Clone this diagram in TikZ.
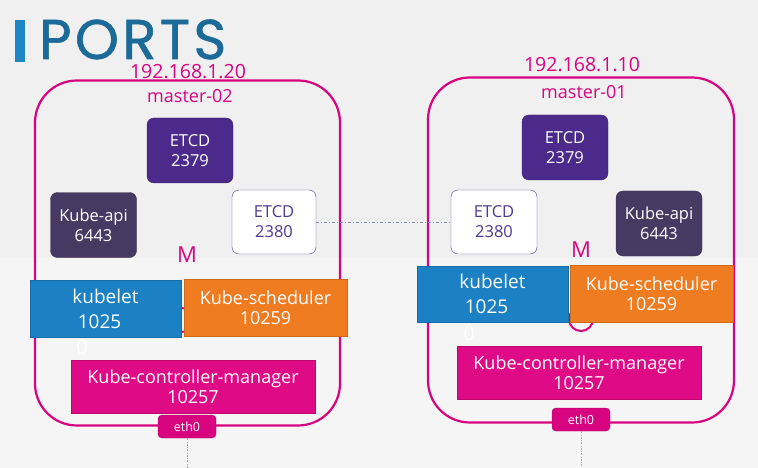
\documentclass[tikz,border=0pt]{standalone}
\usepackage{fontspec}
\setmainfont{Open Sans}
\newfontfamily\titlefont[LetterSpace=6,FakeBold=1]{Poppins}
\definecolor{hostpink}{HTML}{D8037F}
\definecolor{etcdpurple}{HTML}{4B2A8B}
\definecolor{apigray}{HTML}{463A62}
\definecolor{peerpurple}{HTML}{4F3A94}
\definecolor{kubeletblue}{HTML}{1B80C4}
\definecolor{schedorange}{HTML}{F07C22}
\definecolor{kcmpink}{HTML}{DE0A86}
\definecolor{titleblue}{HTML}{1B6A97}
\definecolor{barblue}{HTML}{1E86C5}
\definecolor{linkgray}{HTML}{8A92B8}
\definecolor{wireblue}{HTML}{7FB6DA}
\begin{document}
\begin{tikzpicture}[x=1pt,y=-1pt,
  hostbox/.style={draw=hostpink, line width=2.2pt, rounded corners=42pt, minimum width=#1, minimum height=345pt, inner sep=0pt},
  hosttext/.style={text=hostpink, font=\fontsize{18}{21}\selectfont, inner sep=0pt},
  iptext/.style={text=hostpink, font=\fontsize{19.5}{22}\selectfont, inner sep=0pt},
  portbox/.style={rounded corners=7pt, text=white, align=center, inner sep=0pt, minimum width=86pt, minimum height=65pt, font=\fontsize{16.5}{20}\selectfont},
  flatbox/.style={text=white, align=center, inner sep=0pt, minimum height=57pt, font=\fontsize{18}{20}\selectfont, line width=1pt},
  ethbox/.style={fill=hostpink, draw=hostpink!80!black, rounded corners=4pt, text=white, minimum width=58pt, minimum height=23pt, inner sep=0pt, font=\fontsize{12.5}{14}\selectfont},
  wire/.style={wireblue, line width=1pt, dash pattern=on 2pt off 1.5pt on 0.5pt off 1.5pt}]
  \useasboundingbox (0,0) rectangle (758,468);
  \fill[black!6] (0,0) rectangle (758,468);
  \fill[black!4] (0,258) rectangle (758,468);

  % title
  \node[fill=barblue, minimum width=10pt, minimum height=42pt, inner sep=0pt] (bar) at (20,41) {};
  \node[anchor=base west, text=titleblue, inner sep=0pt, font=\titlefont\fontsize{56}{56}\selectfont] (title) at (39,59) {PORTS};

  % hosts
  \node[hostbox=305pt] (host02) at (187.5,253) {};
  \node[hostbox=306pt] (host01) at (581,250) {};
  \node[iptext] (ip02) at (188,71.5) {192.168.1.20};
  \node[hosttext] (name02) at (190,96) {master-02};
  \node[iptext] (ip01) at (582,65) {192.168.1.10};
  \node[hosttext] (name01) at (584,92) {master-01};

  % leftover rings
  \node[circle, draw=hostpink, line width=2pt, minimum size=24pt, inner sep=0pt] (ring02) at (182,320) {};
  \node[circle, draw=hostpink, line width=2pt, minimum size=24pt, inner sep=0pt] (ring01) at (581,319) {};

  % master-02
  \node[portbox, fill=etcdpurple, draw=etcdpurple!80!black] (etcd02) at (190,150.5) {ETCD\\2379};
  \node[portbox, fill=apigray, draw=apigray!80!black] (api02) at (93.5,225) {Kube-api\\6443};
  \node[portbox, fill=white, draw=peerpurple, text=peerpurple, minimum width=84pt, minimum height=64pt] (peer02) at (274,222) {ETCD\\2380};
  \node[hosttext, font=\fontsize{22}{24}\selectfont] (m02) at (187,255) {M};
  \node[flatbox, fill=kubeletblue, draw=kubeletblue!85!black, minimum width=151pt, font=\fontsize{19}{20}\selectfont] (kubelet02) at (105.5,308.5) {kubelet\\[5pt]\hspace*{-12pt}1025};
  \node[flatbox, fill=schedorange, draw=schedorange!85!black, minimum width=163pt] (sched02) at (265.5,308) {Kube-scheduler\\10259};
  \node[text=white, inner sep=0pt, font=\fontsize{20}{20}\selectfont] (zero02) at (82,347) {0};
  \node[flatbox, fill=kcmpink, draw=kcmpink!85!black, minimum width=244pt, minimum height=53pt] (kcm02) at (193,386.5) {Kube-controller-manager\\10257};
  \node[ethbox] (eth02) at (187,426.5) {eth0};

  % master-01
  \node[portbox, fill=etcdpurple, draw=etcdpurple!80!black] (etcd01) at (565,147.5) {ETCD\\2379};
  \node[portbox, fill=white, draw=peerpurple, text=peerpurple, minimum height=64pt] (peer01) at (494,222) {ETCD\\2380};
  \node[portbox, fill=apigray, draw=apigray!80!black] (api01) at (659,223.5) {Kube-api\\6443};
  \node[hosttext, font=\fontsize{22}{24}\selectfont] (m01) at (581,250) {M};
  \node[flatbox, fill=kubeletblue, draw=kubeletblue!85!black, minimum width=151pt, minimum height=56pt, font=\fontsize{19}{20}\selectfont] (kubelet01) at (492.5,294) {kubelet\\[5pt]\hspace*{-12pt}1025};
  \node[flatbox, fill=schedorange, draw=schedorange!85!black, minimum width=163pt] (sched01) at (651.5,293.5) {Kube-scheduler\\10259};
  \node[text=white, inner sep=0pt, font=\fontsize{20}{20}\selectfont] (zero01) at (469,333) {0};
  \node[flatbox, fill=kcmpink, draw=kcmpink!85!black, minimum width=244pt, minimum height=53pt] (kcm01) at (579,372.5) {Kube-controller-manager\\10257};
  \node[ethbox] (eth01) at (581,419.5) {eth0};

  % links
  \draw[linkgray, line width=0.8pt, dash pattern=on 3pt off 2pt on 1pt off 2pt] (peer02.east) -- (peer01.west);
  \coordinate (down02) at (187,468);
  \coordinate (down01) at (581,468);
  \draw[wire] (eth02.south) -- (down02);
  \draw[wire] (eth01.south) -- (down01);
\end{tikzpicture}
\end{document}
